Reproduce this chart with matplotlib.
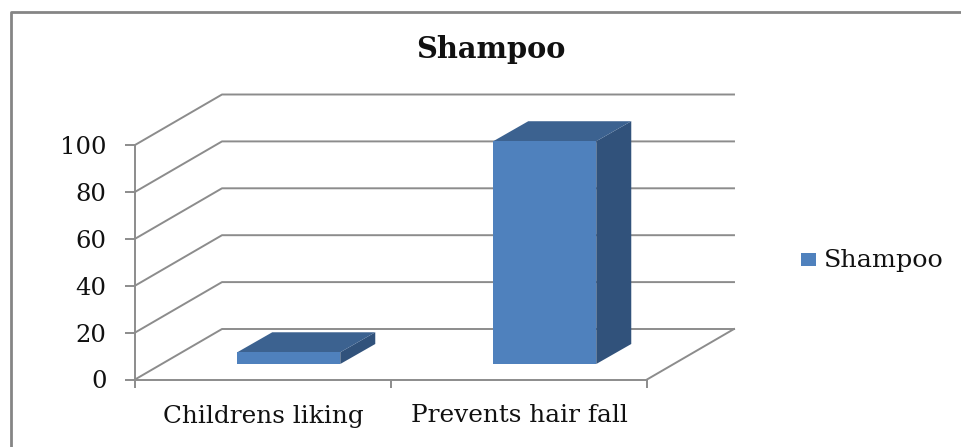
import matplotlib
matplotlib.use("Agg")
import matplotlib.pyplot as plt
from matplotlib.patches import Polygon, Rectangle
from matplotlib.lines import Line2D

categories = ["Childrens liking", "Prevents hair fall"]
values = [5, 95]
series_name = "Shampoo"
y_ticks = [0, 20, 40, 60, 80, 100]

W, H = 961, 447
FRONT, TOP, SIDE = "#4F81BD", "#3C6290", "#31527B"
GRID = "#8C8C8C"
plt.rcParams["font.family"] = "DejaVu Serif"

fig = plt.figure(figsize=(W / 100, H / 100), dpi=100)
fig.patch.set_facecolor("white")
L, R, B, T = 135, 647, 379.5, 145
ax = fig.add_axes([L / W, 1 - B / H, (R - L) / W, (B - T) / H])
ax.set_xlim(0, len(categories))
ax.set_ylim(0, 100)
ax.patch.set_visible(False)
for s in ("top", "right"):
    ax.spines[s].set_visible(False)
for s in ("left", "bottom"):
    ax.spines[s].set_color(GRID)
    ax.spines[s].set_linewidth(1.4)

# depth of the 3-D box, in data units
DX = 87 / ((R - L) / len(categories))
DY = 50.5 / ((B - T) / 100)
ax.set_yticks(y_ticks)
ax.set_xticks(range(len(categories) + 1))
ax.set_xticklabels([])
ax.set_xticks([i + 0.5 for i in range(len(categories))], minor=True)
ax.set_xticklabels(categories, minor=True)
ax.tick_params(axis="y", length=7, width=1.4, color=GRID, labelsize=17.5, pad=13.5, labelcolor="#111111")
ax.tick_params(axis="x", which="major", length=6, width=1.4, color=GRID)
ax.tick_params(axis="x", which="minor", length=0, labelsize=17.8, pad=18, labelcolor="#111111")

# walls
xmax = len(categories)
for v in y_ticks:
    ax.add_line(Line2D([0, DX, xmax + DX], [v, v + DY, v + DY], color=GRID, lw=1.4, clip_on=False, zorder=1))
ax.add_line(Line2D([xmax, xmax + DX], [0, DY], color=GRID, lw=1.4, clip_on=False, zorder=1))

# bars
BAR_W = 103 / ((R - L) / len(categories))
BX, BY = 35 / ((R - L) / len(categories)), 20 / ((B - T) / 100)
X_OFF = 36 / ((R - L) / len(categories))
Y_OFF = 15.5 / ((B - T) / 100)
for i, v in enumerate(values):
    x0 = i + 0.5 - BAR_W / 2 - 0.04 + X_OFF
    x1 = x0 + BAR_W
    y0, y1 = Y_OFF, Y_OFF + v
    ax.add_patch(Polygon([(x1, y0), (x1 + BX, y0 + BY), (x1 + BX, y1 + BY), (x1, y1)], fc=SIDE, ec="none", zorder=3, clip_on=False))
    ax.add_patch(Polygon([(x0, y1), (x0 + BX, y1 + BY), (x1 + BX, y1 + BY), (x1, y1)], fc=TOP, ec="none", zorder=3, clip_on=False))
    ax.add_patch(Rectangle((x0, y0), BAR_W, v, fc=FRONT, ec="none", zorder=4, clip_on=False))

# frame, title, legend
fig.add_artist(Line2D([11 / W, 11 / W, 1], [0, 1 - 12 / H, 1 - 12 / H], color="#858585", lw=2.0))
fig.text(490.5 / W, 1 - 49 / H, series_name, ha="center", va="center", fontsize=20.8, fontweight="bold", color="#111111")
fig.add_artist(Rectangle((801 / W, 1 - 266 / H), 15 / W, 13 / H, fc=FRONT, ec="none", transform=fig.transFigure))
fig.text(824 / W, 1 - 261 / H, series_name, ha="left", va="center", fontsize=18.3, color="#111111")

fig.savefig("out.png", dpi=100)
